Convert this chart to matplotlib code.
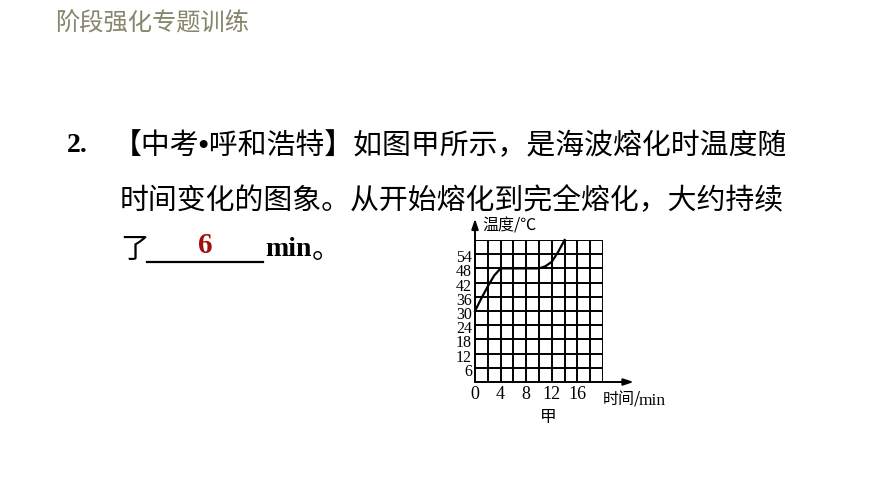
import numpy as np
import matplotlib
matplotlib.use("Agg")
import matplotlib.pyplot as plt
import matplotlib.transforms as mtransforms
from matplotlib.lines import Line2D

plt.rcParams['font.family'] = ['Noto Sans CJK SC', 'DejaVu Sans']

# data
melt_time = [0, 1, 2, 3, 4, 10, 11, 12, 13, 14]
melt_temp = [30, 35.4, 40.4, 45, 48, 48, 48.9, 50.8, 55, 60]
x_ticks = [0, 4, 8, 12, 16]
y_ticks = [6, 12, 18, 24, 30, 36, 42, 48, 54]
answer = "6"

W, H = 870, 489
fig = plt.figure(figsize=(W / 100, H / 100), dpi=100)

def fx(px):
    return px / W

def fy(py):
    return 1 - py / H

FS = 20.8

# header and question text
fig.text(fx(55), fy(24), "阶段强化专题训练", fontsize=17.5, color="#86866c",
         va="center", ha="left")
fig.text(fx(67), fy(146), "2.", fontsize=20, fontweight="bold",
         family="Liberation Serif", va="center", ha="left")
# narrow bullet from Liberation Sans, CJK glyphs fall back to Noto
fig.text(fx(113), fy(146), "【中考•呼和浩特】如图甲所示，是海波熔化时温度随",
         fontsize=FS, family=["Liberation Sans", "Noto Sans CJK SC"],
         va="center", ha="left")
fig.text(fx(120), fy(201), "时间变化的图象。从开始熔化到完全熔化，大约持续",
         fontsize=FS, va="center", ha="left")
fig.text(fx(120), fy(250), "了", fontsize=FS, va="center", ha="left")
fig.add_artist(Line2D([fx(147), fx(263)], [fy(263), fy(263)], color="black", lw=1.6))
fig.text(fx(205), fy(246), answer, fontsize=21, fontweight="bold", color="#a30d0d",
         family="Liberation Serif", va="center", ha="center")
fig.text(fx(265), fy(250), "min", fontsize=20, fontweight="bold",
         family="Liberation Serif", va="center", ha="left")
fig.text(fx(312), fy(250), "。", fontsize=FS, va="center", ha="left")

# chart
ax = fig.add_axes([fx(475), fy(383), (603 - 475) / W, (383 - 241) / H])
ax.set_xlim(0, 20)
ax.set_ylim(0, 60)
for v in range(0, 21, 2):
    ax.axvline(v, color="black", lw=1.4, zorder=1)
for v in range(6, 61, 6):
    ax.axhline(v, color="black", lw=1.4, zorder=1)
for s in ax.spines.values():
    s.set_visible(False)

ax.plot(melt_time, melt_temp, color="black", lw=1.6, zorder=3, clip_on=False)

# axes arrows
ax.annotate("", xy=(24.8, 0), xytext=(0, 0), annotation_clip=False,
            arrowprops=dict(arrowstyle="-|>,head_length=0.6,head_width=0.2",
                            color="black", lw=1.4, shrinkA=0, shrinkB=0))
ax.annotate("", xy=(0, 69), xytext=(0, 0), annotation_clip=False,
            arrowprops=dict(arrowstyle="-|>,head_length=0.6,head_width=0.2",
                            color="black", lw=1.4, shrinkA=0, shrinkB=0))

ax.set_xticks([])
ax.set_yticks([])
xoff = ax.transData + mtransforms.ScaledTranslation(0, -12 / 100, fig.dpi_scale_trans)
yoff = ax.transData + mtransforms.ScaledTranslation(-3 / 100, -3 / 100, fig.dpi_scale_trans)
for t in x_ticks:
    ax.text(t, 0, str(t), transform=xoff, family="Liberation Serif",
            fontsize=13, ha="center", va="center")
for t in y_ticks:
    ax.text(0, t, str(t), transform=yoff, family="Liberation Serif",
            fontsize=11.5, ha="right", va="center")

fig.text(fx(482), fy(226), "温度/℃", fontsize=11.5, va="center", ha="left")
fig.text(fx(603), fy(400), "时间/", fontsize=11.5, va="center", ha="left")
fig.text(fx(639), fy(401), "min", fontsize=12.5, family="Liberation Serif",
         va="center", ha="left")
fig.text(fx(548), fy(418), "甲", fontsize=12, va="center", ha="center")

fig.savefig("out.png", dpi=100)
